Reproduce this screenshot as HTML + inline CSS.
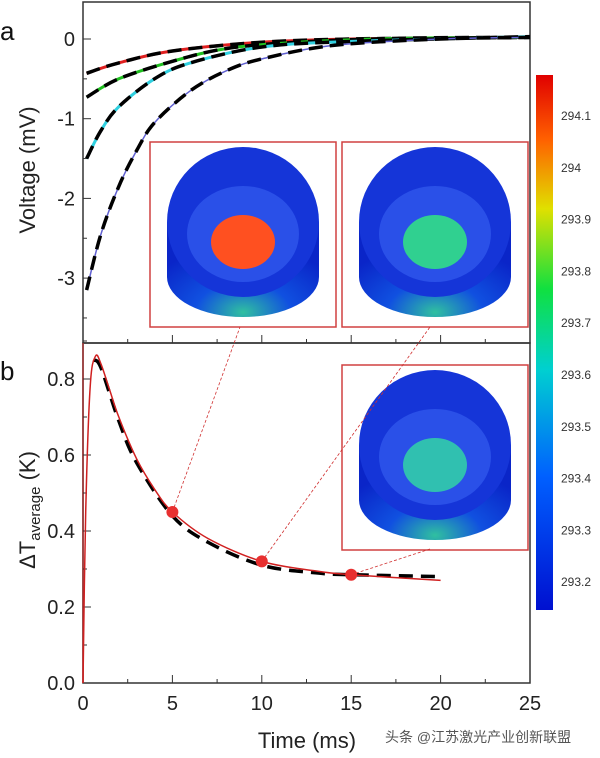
<!DOCTYPE html>
<html><head><meta charset="utf-8">
<style>
body{margin:0;background:#fff;width:600px;height:753px;overflow:hidden}
svg{font-family:"Liberation Sans","Noto Sans CJK SC",sans-serif}
</style></head>
<body>
<svg id="chart" width="600" height="753" viewBox="0 0 600 753" xmlns="http://www.w3.org/2000/svg">
<defs>
<linearGradient id="jet" x1="0" y1="1" x2="0" y2="0">
<stop offset="0" stop-color="#0010d0"/><stop offset="0.25" stop-color="#0060ff"/>
<stop offset="0.45" stop-color="#00d0d0"/><stop offset="0.6" stop-color="#10e040"/>
<stop offset="0.75" stop-color="#e0e000"/><stop offset="0.88" stop-color="#ff6000"/>
<stop offset="1" stop-color="#e00000"/></linearGradient>
<radialGradient id="cylSide" cx="0.5" cy="0.95" r="0.7"><stop offset="0" stop-color="#30c0a0"/><stop offset="0.45" stop-color="#1050e0"/><stop offset="1" stop-color="#0a25c8"/></radialGradient>
</defs>
<g id="layer"></g>
</svg>
<script>
// ---- Panel a data ----
const timeRed = [0.2, 2, 5, 10, 15, 20, 25];
const voltRed = [-0.43, -0.30, -0.15, -0.04, 0, 0.01, 0.02];
const timeGreen = [0.2, 2, 5, 8, 12, 18, 25];
const voltGreen = [-0.73, -0.5, -0.28, -0.12, -0.04, 0.01, 0.02];
const timeCyan = [0.2, 1, 2, 4, 6, 10, 15, 25];
const voltCyan = [-1.5, -1.15, -0.85, -0.5, -0.3, -0.1, -0.03, 0.03];
const timeBlue = [0.2, 1, 2, 3, 4, 6, 8, 10, 14, 20, 25];
const voltBlue = [-3.15, -2.45, -1.85, -1.4, -1.05, -0.65, -0.4, -0.25, -0.08, 0, 0.02];
const voltTicks = [0, -1, -2, -3];
const timeTicks = [0, 5, 10, 15, 20, 25];
// ---- Panel b data ----
const timeSim = [0, 0.15, 0.4, 0.7, 1, 1.5, 2, 3, 4, 5, 7, 10, 13, 15, 20];
const dtSim = [0, 0.45, 0.78, 0.86, 0.84, 0.77, 0.7, 0.59, 0.51, 0.45, 0.38, 0.32, 0.295, 0.285, 0.27];
const timeFit = [0.6, 1, 2, 3, 5, 7, 10, 13, 15, 20];
const dtFit = [0.85, 0.83, 0.69, 0.58, 0.44, 0.37, 0.31, 0.29, 0.285, 0.28];
const markTimes = [5, 10, 15];
const markDt = [0.45, 0.32, 0.285];
const dtTicks = [0.0, 0.2, 0.4, 0.6, 0.8];
const cbLabels = ["294.1","294","293.9","293.8","293.7","293.6","293.5","293.4","293.3","293.2"];

const NS="http://www.w3.org/2000/svg";
const L=document.getElementById('layer');
function mk(t,a,p){const e=document.createElementNS(NS,t);for(const k in a)e.setAttribute(k,a[k]);(p||L).appendChild(e);return e;}
const X=t=>83+t*(447/25);
const Ya=v=>39-v*79.7;
const Yb=v=>683-v*380;
function path(xs,ys,yf){
 const P=xs.map((t,i)=>[X(t),yf(ys[i])]);
 let d='M'+P[0][0].toFixed(1)+' '+P[0][1].toFixed(1);
 for(let i=0;i<P.length-1;i++){
  const p0=P[Math.max(i-1,0)],p1=P[i],p2=P[i+1],p3=P[Math.min(i+2,P.length-1)];
  const c1=[p1[0]+(p2[0]-p0[0])/6,p1[1]+(p2[1]-p0[1])/6];
  const c2=[p2[0]-(p3[0]-p1[0])/6,p2[1]-(p3[1]-p1[1])/6];
  d+=` C${c1[0].toFixed(1)} ${c1[1].toFixed(1)} ${c2[0].toFixed(1)} ${c2[1].toFixed(1)} ${p2[0].toFixed(1)} ${p2[1].toFixed(1)}`;
 }
 return d;
}

// frames
let e=mk('rect',{x:83,y:2,width:447,height:341,fill:'none',stroke:'#333','stroke-width':1.5});

e=mk('rect',{x:83,y:343,width:447,height:340,fill:'none',stroke:'#333','stroke-width':1.5});

mk('line',{x1:83,y1:343,x2:83,y2:683,stroke:'#a03030','stroke-width':1.5});

// panel a ticks
voltTicks.forEach(v=>{
 const t=mk('text',{x:75,y:Ya(v)+7,'font-size':20,'text-anchor':'end',fill:'#222'});t.textContent=v;
 
 mk('line',{x1:83,y1:Ya(v),x2:91,y2:Ya(v),stroke:'#333'});
 mk('line',{x1:83,y1:Ya(v-0.5),x2:87,y2:Ya(v-0.5),stroke:'#333'});
});
timeTicks.forEach(t=>{
 mk('line',{x1:X(t),y1:343,x2:X(t),y2:335,stroke:'#333'});
 mk('line',{x1:X(t),y1:683,x2:X(t),y2:675,stroke:'#333'});
 if(t<25){mk('line',{x1:X(t+2.5),y1:343,x2:X(t+2.5),y2:339,stroke:'#333'});mk('line',{x1:X(t+2.5),y1:683,x2:X(t+2.5),y2:679,stroke:'#333'});}
 const l=mk('text',{x:X(t),y:710,'font-size':20,'text-anchor':'middle',fill:'#222'});l.textContent=t;
 
});
dtTicks.forEach(v=>{
 const t=mk('text',{x:75,y:Yb(v)+7,'font-size':20,'text-anchor':'end',fill:'#222'});t.textContent=v.toFixed(1);
 
 mk('line',{x1:83,y1:Yb(v),x2:91,y2:Yb(v),stroke:'#333'});
 mk('line',{x1:83,y1:Yb(v+0.1),x2:87,y2:Yb(v+0.1),stroke:'#333'});
});

// series panel a
[[timeRed,voltRed,'#e02020','series-red'],[timeGreen,voltGreen,'#20c020','series-green'],[timeCyan,voltCyan,'#30d0e0','series-cyan'],[timeBlue,voltBlue,'#6060d0','series-blue']].forEach(s=>{
 const p=mk('path',{d:path(s[0],s[1],Ya),fill:'none',stroke:s[2],'stroke-width':s[3]=='series-blue'?1.5:3});
 
 const f=mk('path',{d:path(s[0],s[1],Ya),fill:'none',stroke:'#000','stroke-width':3.5,'stroke-dasharray':'14 7'});
 
});

// insets
function inset(x,y,name,inner){
 const g=mk('g',{});
 mk('rect',{x:x,y:y,width:186,height:185,fill:'#fff',stroke:'#d04040','stroke-width':1.5},g);
 const cx=x+93;
 mk('path',{d:`M${cx-76} ${y+80} L${cx-76} ${y+135} A76 40 0 0 0 ${cx+76} ${y+135} L${cx+76} ${y+80} Z`,fill:'url(#cylSide)'},g);
 mk('ellipse',{cx:cx,cy:y+80,rx:76,ry:75,fill:'#1535d8'},g);
 mk('ellipse',{cx:cx,cy:y+92,rx:56,ry:48,fill:'#2a50e8'},g);
 mk('ellipse',{cx:cx,cy:y+100,rx:32,ry:27,fill:inner},g);
 return g;
}
inset(150,142,'inset-5ms','#ff5020');
inset(342,142,'inset-10ms','#30d090');
inset(342,365,'inset-15ms','#30c0b0');

// panel b
const fit=mk('path',{d:path(timeFit,dtFit,Yb),fill:'none',stroke:'#000','stroke-width':3.5,'stroke-dasharray':'14 8'});

const sim=mk('path',{d:path(timeSim,dtSim,Yb),fill:'none',stroke:'#d02020','stroke-width':1.5});

const targets=[[240,327],[430,327],[430,549]];
markTimes.forEach((t,i)=>{
 const l=mk('line',{x1:X(t),y1:Yb(markDt[i]),x2:targets[i][0],y2:targets[i][1],stroke:'#d03030','stroke-width':0.8,'stroke-dasharray':'3 2'});
 
 const c=mk('circle',{cx:X(t),cy:Yb(markDt[i]),r:6,fill:'#e83030'});
 
});

// colorbar
const cb=mk('rect',{x:536,y:75,width:17,height:535,fill:'url(#jet)'});

cbLabels.forEach((s,i)=>{
 const t=mk('text',{x:561,y:120+i*51.8,'font-size':12,fill:'#333'});t.textContent=s;
 
});

// titles
let t=mk('text',{x:0,y:40,'font-size':26,fill:'#111'});t.textContent='a';
t=mk('text',{x:0,y:380,'font-size':26,fill:'#111'});t.textContent='b';
t=mk('text',{x:0,y:0,'font-size':22,fill:'#222','text-anchor':'middle',transform:'translate(35,170) rotate(-90)'});t.textContent='Voltage (mV)';

t=mk('text',{x:0,y:0,'font-size':22,fill:'#222','text-anchor':'middle',transform:'translate(35,510) rotate(-90)'});
t.innerHTML='ΔT<tspan font-size="15" dy="5">average</tspan><tspan dy="-5"> (K)</tspan>';

t=mk('text',{x:307,y:748,'font-size':22,fill:'#222','text-anchor':'middle'});t.textContent='Time (ms)';

t=mk('text',{x:385,y:742,'font-size':14,fill:'#555'});t.textContent='头条 @江苏激光产业创新联盟';

</script>
</body></html>
